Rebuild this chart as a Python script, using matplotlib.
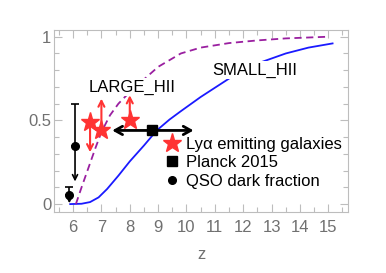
import matplotlib
matplotlib.use('Agg')
import matplotlib.pyplot as plt
from matplotlib.lines import Line2D
from matplotlib.ticker import MultipleLocator

plt.rcParams['font.family'] = 'Liberation Sans'
plt.rcParams['font.size'] = 12

# SMALL_HII model (solid blue)
small_z = [5.9, 6.3, 6.6, 6.9, 7.2, 7.6, 8.0, 8.5, 8.95, 9.4, 9.8, 10.5, 11.5, 12.5, 13.5, 14.3, 15.15]
small_x = [0.0, 0.002, 0.012, 0.04, 0.09, 0.17, 0.255, 0.35, 0.44, 0.505, 0.555, 0.64, 0.75, 0.84, 0.90, 0.935, 0.96]

# LARGE_HII model (dashed purple)
large_z = [6.1, 6.3, 6.55, 6.8, 7.0, 7.3, 7.6, 8.0, 8.4, 9.0, 9.8, 10.5, 11.5, 12.5, 13.5, 15.0]
large_x = [0.0, 0.1, 0.22, 0.34, 0.43, 0.53, 0.60, 0.67, 0.73, 0.82, 0.90, 0.935, 0.962, 0.978, 0.99, 1.0]

# Lya emitting galaxies: value and arrow end
lae_z = [6.6, 7.0, 8.0]
lae_x = [0.49, 0.44, 0.50]
lae_end = [0.31, 0.63, 0.65]

# Planck 2015
planck_z = 8.8
planck_x = 0.44
planck_lo = 1.42
planck_hi = 1.45

# QSO dark fraction: value, upper cap, lower arrow end
qso_z = [5.87, 6.07]
qso_x = [0.055, 0.35]
qso_top = [0.10, 0.60]
qso_bot = [0.005, 0.135]

red = '#ff3333'
grey = '#bdbdbd'

fig = plt.figure(figsize=(3.86, 2.73), dpi=100)
ax = fig.add_axes([0.140, 0.223, 0.762, 0.667])

ax.plot(small_z, small_x, color='#1a1aff', lw=1.3, zorder=2)
ax.plot(large_z, large_x, color='#9a1fa0', lw=1.3, ls=(0, (4, 2.5)), zorder=2)

ax.text(8.1, 0.70, 'LARGE_HII', ha='center', va='center', zorder=3,
        bbox=dict(facecolor='white', edgecolor='none', pad=1))
ax.text(12.4, 0.80, 'SMALL_HII', ha='center', va='center', zorder=3,
        bbox=dict(facecolor='white', edgecolor='none', pad=1))

# LAE arrows
for z, x, e in zip(lae_z, lae_x, lae_end):
    ax.annotate('', xy=(z, e), xytext=(z, x),
                arrowprops=dict(arrowstyle='->,head_length=0.35,head_width=0.18',
                                color=red, lw=1.5, shrinkA=0, shrinkB=0), zorder=4)
ax.plot(lae_z, lae_x, ls='none', marker='*', ms=14, color=red, mec=red, zorder=5)

# Planck
ax.annotate('', xy=(planck_z - planck_lo, planck_x), xytext=(planck_z + planck_hi, planck_x),
            arrowprops=dict(arrowstyle='<->,head_length=0.45,head_width=0.25',
                            color='black', lw=2, shrinkA=0, shrinkB=0), zorder=4)
ax.plot([planck_z], [planck_x], ls='none', marker='s', ms=7.5, color='black', zorder=5)

# QSO dark fraction
for z, x, t, b in zip(qso_z, qso_x, qso_top, qso_bot):
    ax.errorbar([z], [x], yerr=[[0], [t - x]], fmt='none', ecolor='black',
                elinewidth=1.2, capsize=3, capthick=1.2, zorder=4)
    ax.annotate('', xy=(z, b), xytext=(z, x),
                arrowprops=dict(arrowstyle='->,head_length=0.3,head_width=0.15',
                                color='black', lw=1.2, shrinkA=0, shrinkB=0), zorder=4)
ax.plot(qso_z, qso_x, ls='none', marker='o', ms=5.5, color='black', zorder=5)

ax.set_xlim(5.33, 15.7)
ax.set_ylim(-0.048, 1.04)
ax.xaxis.set_minor_locator(MultipleLocator(0.5))
ax.yaxis.set_minor_locator(MultipleLocator(0.1))
ax.set_yticks([0, 0.5, 1])
ax.set_yticklabels(['0', '0.5', '1'])
ax.set_xticks(range(6, 16))

for s in ax.spines.values():
    s.set_color(grey)
ax.tick_params(which='both', direction='in', top=True, right=True, color=grey,
               labelcolor='#707070', labelsize=12)
ax.tick_params(which='major', length=6, width=0.8)
ax.tick_params(which='minor', length=3.5, width=0.8)
ax.tick_params(axis='x', pad=6)
ax.tick_params(axis='y', pad=2)

ax.set_xlabel('z', color='#707070', labelpad=8)

handles = [Line2D([], [], ls='none', marker='*', ms=14, color=red),
           Line2D([], [], ls='none', marker='s', ms=7.5, color='black'),
           Line2D([], [], ls='none', marker='o', ms=5.5, color='black')]
labels = ['Ly\u03b1 emitting galaxies', 'Planck 2015', 'QSO dark fraction']
ax.legend(handles, labels, loc='upper left', bbox_to_anchor=(0.374, 0.413),
          frameon=False, borderpad=0, borderaxespad=0, handlelength=1.0,
          handletextpad=0.3, labelspacing=0.2, fontsize=12)

fig.savefig('out.png', dpi=100)
